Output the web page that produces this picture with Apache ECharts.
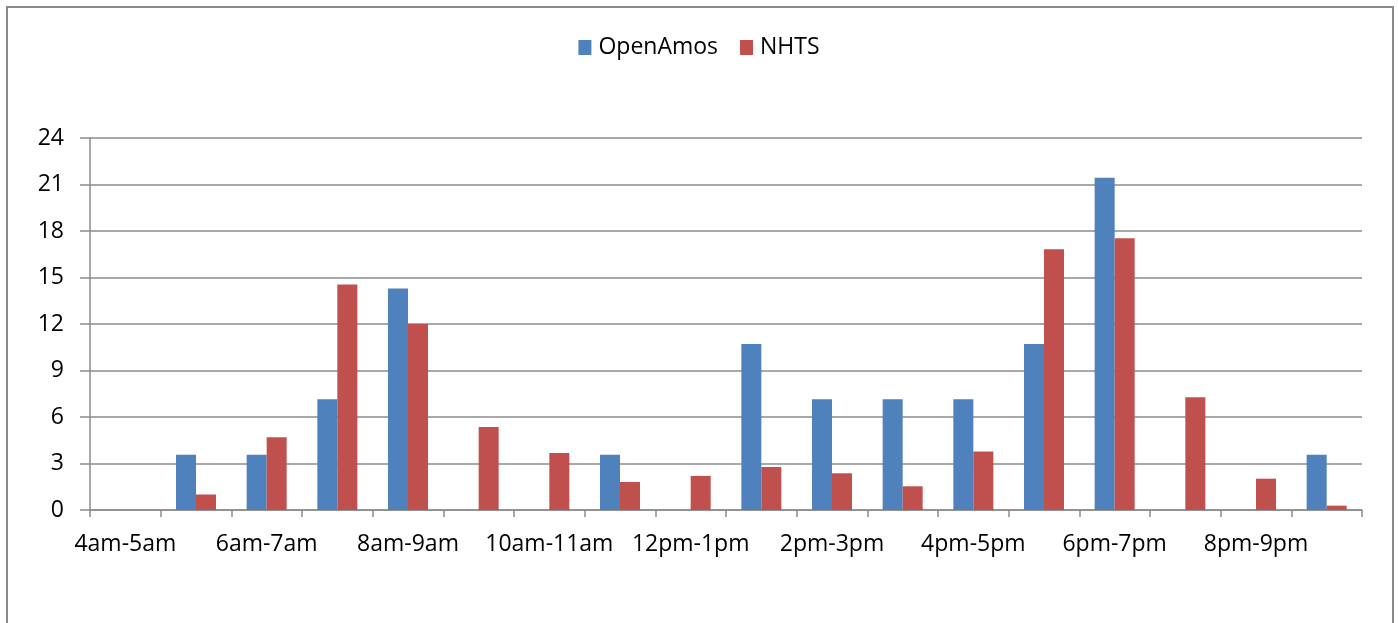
<!DOCTYPE html>
<html>
<head>
<meta charset="utf-8">
<title>OpenAmos vs NHTS</title>
<script src="https://cdn.jsdelivr.net/npm/echarts@6/dist/echarts.min.js"></script>
<style>
	html, body { margin: 0; padding: 0; background: #fff; }
	#chart { width: 1398px; height: 623px; }
</style>
</head>
<body>
<div id="chart"></div>
<script>
// hour bins, one per category
var hours = ["4am-5am", "5am-6am", "6am-7am", "7am-8am", "8am-9am", "9am-10am",
	"10am-11am", "11am-12pm", "12pm-1pm", "1pm-2pm", "2pm-3pm", "3pm-4pm",
	"4pm-5pm", "5pm-6pm", "6pm-7pm", "7pm-8pm", "8pm-9pm", "9pm-10pm"];

var openAmos = [0, 3.57, 3.57, 7.14, 14.29, 0, 0, 3.57, 0, 10.71, 7.14, 7.14,
	7.14, 10.71, 21.43, 0, 0, 3.57];

var nhts = [0, 1.0, 4.7, 14.55, 12.0, 5.36, 3.68, 1.81, 2.2, 2.78, 2.37, 1.53,
	3.77, 16.83, 17.54, 7.27, 2.02, 0.28];

var yTicks = { min: 0, max: 24, interval: 3 };

var font = "'Open Sans', 'Liberation Sans', sans-serif";
var gridColor = "#8c8c8c";

var myChart = echarts.init(document.getElementById("chart"));

var option = {
	backgroundColor: "#fff",
	animation: false,
	textStyle: { fontFamily: font },
	graphic: [{
		type: "rect",
		shape: { x: 7, y: 7, width: 1386, height: 700 },
		style: { fill: "none", stroke: "#8a8a8a", lineWidth: 2 },
		silent: true
	}],
	legend: {
		top: 31,
		left: "center",
		itemWidth: 13,
		itemHeight: 15,
		itemGap: 22,
		icon: "rect",
		textStyle: { fontSize: 23, color: "#000", fontFamily: font, padding: [0, 0, 0, 2] },
		data: ["OpenAmos", "NHTS"]
	},
	grid: {
		left: 90,
		right: 36,
		top: 138,
		bottom: 113,
		containLabel: false
	},
	xAxis: [{
		type: "category",
		data: hours,
		boundaryGap: true,
		axisLine: { show: true, lineStyle: { color: gridColor, width: 1.5 } },
		axisTick: { show: true, length: 7, interval: 0, lineStyle: { color: gridColor, width: 1.5 } },
		axisLabel: { interval: 1, margin: 23, fontSize: 23, color: "#000", fontFamily: font },
		splitLine: { show: false }
	}],
	yAxis: [{
		type: "value",
		min: yTicks.min,
		max: yTicks.max,
		interval: yTicks.interval,
		axisLine: { show: true, lineStyle: { color: gridColor, width: 1.5 } },
		axisTick: { show: true, length: 10, lineStyle: { color: gridColor, width: 1.5 } },
		axisLabel: { margin: 26, fontSize: 23, color: "#000", fontFamily: font },
		splitLine: { show: true, lineStyle: { color: gridColor, width: 1.5 } }
	}],
	series: [
		{
			name: "OpenAmos",
			type: "bar",
			barWidth: 20,
			barGap: "0%",
			itemStyle: { color: "#4F81BD" },
			data: openAmos
		},
		{
			name: "NHTS",
			type: "bar",
			barWidth: 20,
			barGap: "0%",
			itemStyle: { color: "#C0504D" },
			data: nhts
		}
	]
};

myChart.setOption(option);
</script>
</body>
</html>
